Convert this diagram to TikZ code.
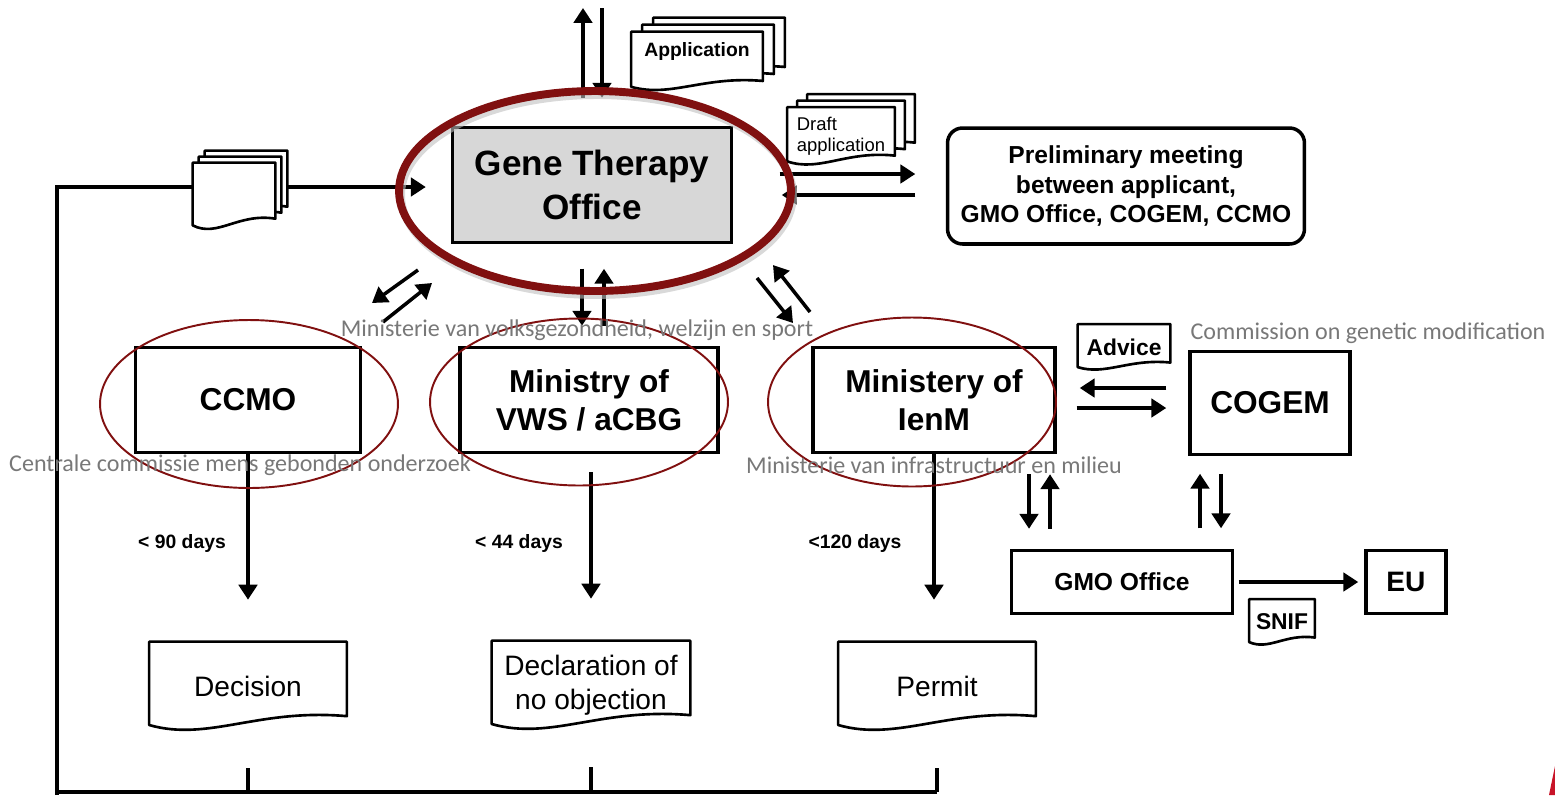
\documentclass[tikz,border=0pt]{standalone}
\usepackage{fontspec}
\setmainfont{Liberation Sans}
\newfontfamily\notefont{Carlito}
\usetikzlibrary{arrows.meta,calc}
\pgfdeclarelayer{wires}
\pgfdeclarelayer{paper}
\pgfsetlayers{wires,paper,main}

\definecolor{ringred}{RGB}{128,16,16}
\definecolor{notegray}{RGB}{120,120,120}
\definecolor{officegray}{RGB}{215,215,215}
\definecolor{cornerred}{RGB}{200,20,40}

\tikzset{
  box/.style={draw, line width=2pt, align=center, inner sep=0pt, font=\bfseries\fontsize{18}{21.6}\selectfont},
  doc/.style={inner sep=0pt, align=center, font=\fontsize{16}{19.4}\selectfont},
  docline/.style={draw=black, fill=white, line width=1.5pt, line join=round},
  arr/.style={line width=2pt, -{Triangle[length=8.5pt,width=10.5pt]}},
  wire/.style={line width=2pt},
  ring/.style={draw=ringred, line width=1.1pt},
  note/.style={text=notegray, font=\notefont\fontsize{13.7}{16}\selectfont, inner sep=0pt},
  days/.style={font=\bfseries\fontsize{11}{13}\selectfont, inner sep=0pt},
}

% paper outline with a wavy lower edge, behind the node text
\newcommand\docoutline[2]{%
  \begin{pgfonlayer}{paper}
  \filldraw[docline] let \p1=($(#1.south west)+(#2)$), \p2=($(#1.north east)+(#2)$) in
    (\x1,\y2) -- (\x2,\y2) -- (\x2,{\y1+0.16*(\y2-\y1)})
    .. controls ({\x1+0.55*(\x2-\x1)},{\y1+0.25*(\y2-\y1)}) and ({\x1+0.3*(\x2-\x1)},{\y1-0.13*(\y2-\y1)})
    .. (\x1,{\y1+0.06*(\y2-\y1)}) -- cycle;
  \end{pgfonlayer}}

\begin{document}
\begin{tikzpicture}[x=0.02cm, y=-0.02cm]
  \useasboundingbox (0,0) rectangle (1555,795);

  % offices
  \node[box, fill=officegray, minimum width=5.58cm, minimum height=2.3cm, font=\bfseries\fontsize{20}{25.5}\selectfont] (gto) at (592,185) {Gene Therapy\\Office};
  \node[box, rounded corners=0.3cm, minimum width=7.14cm, minimum height=2.32cm, font=\bfseries\fontsize{14}{16.8}\selectfont] (prelim) at (1126,186) {Preliminary meeting\\between applicant,\\GMO Office, COGEM, CCMO};
  \node[box, minimum width=4.5cm, minimum height=2.1cm] (ccmo) at (248,400) {CCMO};
  \node[box, minimum width=5.16cm, minimum height=2.1cm] (vws) at (589,400) {Ministry of\\VWS / aCBG};
  \node[box, minimum width=4.84cm, minimum height=2.1cm] (ienm) at (934,400) {Ministery of\\IenM};
  \node[box, minimum width=3.2cm, minimum height=2.06cm] (cogem) at (1270,403) {COGEM};
  \node[box, minimum width=4.42cm, minimum height=1.26cm, font=\bfseries\fontsize{14}{16}\selectfont] (gmo) at (1122,582) {GMO Office};
  \node[box, minimum width=1.6cm, minimum height=1.26cm, font=\bfseries\fontsize{16}{19}\selectfont] (eu) at (1406,582) {EU};

  % papers
  \node[doc, minimum width=2.62cm, minimum height=1.16cm, text depth=0.45cm, font=\bfseries\fontsize{11}{13}\selectfont] (application) at (697,61) {Application};
  \node[doc, minimum width=2.14cm, minimum height=1.14cm, align=left, font=\fontsize{10.5}{12}\selectfont] (draft) at (841,136) {Draft\\application};
  \node[doc, minimum width=1.64cm, minimum height=1.32cm] (bundle) at (234,196) {};
  \node[doc, minimum width=1.84cm, minimum height=0.9cm, font=\bfseries\fontsize{13}{15}\selectfont] (advice) at (1124,347) {Advice};
  \node[doc, minimum width=1.3cm, minimum height=0.9cm, font=\bfseries\fontsize{13}{15}\selectfont] (snif) at (1282,622) {SNIF};
  \node[doc, minimum width=3.94cm, minimum height=1.76cm] (decision) at (248,686) {Decision};
  \node[doc, minimum width=3.96cm, minimum height=1.76cm] (noobjection) at (591,685) {Declaration of\\no objection};
  \node[doc, minimum width=3.94cm, minimum height=1.76cm] (permit) at (937,686) {Permit};

  \docoutline{application}{22,-14}
  \docoutline{application}{11,-7}
  \docoutline{application}{0,0}
  \docoutline{draft}{20,-13}
  \docoutline{draft}{10,-6.5}
  \docoutline{draft}{0,0}
  \docoutline{bundle}{12,-12}
  \docoutline{bundle}{6,-6}
  \docoutline{bundle}{0,0}
  \docoutline{advice}{0,0}
  \docoutline{snif}{0,0}
  \docoutline{decision}{0,0}
  \docoutline{noobjection}{0,0}
  \docoutline{permit}{0,0}

  % loop back to the office
  \coordinate (loopend) at (57,795);
  \coordinate (loopcorner) at (57,792);
  \coordinate (looptop) at (57,187);
  \begin{pgfonlayer}{wires}
    \draw[arr, shorten >=0.5cm] (loopend) -- (looptop) -- (gto.west |- looptop);
    \draw[wire] (loopcorner) -- (loopcorner -| permit);
  \end{pgfonlayer}
  \draw[wire, shorten <=0.76cm] (decision.south) -- (decision.south |- loopcorner);
  \draw[wire, shorten <=0.76cm] (noobjection.south) -- (noobjection.south |- loopcorner);
  \draw[wire, shorten <=0.76cm] (permit.south) -- (permit.south |- loopcorner);

  % top
  \coordinate (upout) at (583,8);
  \coordinate (downin) at (602,8);
  \draw[arr, shorten <=0.56cm] (gto.north -| upout) -- (upout);
  \draw[arr, shorten >=0.56cm] (downin) -- (gto.north -| downin);

  % office and preliminary meeting
  \coordinate (gtoout) at ([yshift=0.22cm]gto.east);
  \coordinate (gtoin) at ([yshift=-0.2cm]gto.east);
  \draw[arr, shorten <=0.93cm, shorten >=0.61cm] (gtoout) -- (gtoout -| prelim.west);
  \draw[arr, shorten <=0.61cm, shorten >=0.97cm] (gtoin -| prelim.west) -- (gtoin);

  % office and ministries
  \coordinate (gtodown) at ([xshift=-0.2cm]gto.south);
  \coordinate (gtoup) at ([xshift=0.24cm]gto.south);
  \draw[arr, shorten <=0.49cm, shorten >=0.4cm] (gtodown) -- (gtodown |- vws.north);
  \draw[arr, shorten <=0.4cm, shorten >=0.49cm] (gtoup |- vws.north) -- (gtoup);
  \coordinate (ccmoin1) at (418,270);
  \coordinate (ccmoin2) at (372,303);
  \coordinate (ccmoout1) at (383,322);
  \coordinate (ccmoout2) at (432,283);
  \draw[arr] (ccmoin1) -- (ccmoin2);
  \draw[arr] (ccmoout1) -- (ccmoout2);
  \coordinate (ienmin1) at (757,278);
  \coordinate (ienmin2) at (793,323);
  \coordinate (ienmout1) at (810,312);
  \coordinate (ienmout2) at (773,265);
  \draw[arr] (ienmin1) -- (ienmin2);
  \draw[arr] (ienmout1) -- (ienmout2);

  % IenM, COGEM and GMO Office
  \coordinate (ienmback) at ([yshift=0.24cm]ienm.east);
  \coordinate (ienmask) at ([yshift=-0.16cm]ienm.east);
  \draw[arr, shorten <=0.44cm, shorten >=0.46cm] (ienmback -| cogem.west) -- (ienmback);
  \draw[arr, shorten <=0.4cm, shorten >=0.44cm] (ienmask) -- (ienmask -| cogem.west);
  \coordinate (gmodown) at ([xshift=-1.86cm]gmo.north);
  \coordinate (gmoup) at ([xshift=-1.44cm]gmo.north);
  \draw[arr, shorten <=0.4cm, shorten >=0.4cm] (gmodown |- ienm.south) -- (gmodown);
  \draw[arr, shorten <=0.4cm, shorten >=0.4cm] (gmoup) -- (gmoup |- ienm.south);
  \coordinate (cogemup) at ([xshift=-1.4cm]cogem.south);
  \coordinate (cogemdown) at ([xshift=-0.98cm]cogem.south);
  \draw[arr, shorten <=0.41cm, shorten >=0.35cm] (cogemup |- gmo.north) -- (cogemup);
  \draw[arr, shorten <=0.35cm, shorten >=0.41cm] (cogemdown) -- (cogemdown |- gmo.north);
  \draw[arr, shorten <=0.09cm, shorten >=0.12cm] (gmo.east) -- (eu.west);

  % results
  \draw[arr, shorten >=0.84cm] (ccmo.south) -- (decision.north);
  \draw[arr, shorten <=0.36cm, shorten >=0.84cm] (vws.south -| noobjection) -- (noobjection.north);
  \draw[arr, shorten >=0.84cm] (ienm.south) -- (ienm.south |- permit.north);
  \node[days] (ccmodays) at (182,543) {< 90 days};
  \node[days] (vwsdays) at (519,543) {< 44 days};
  \node[days] (ienmdays) at (855,543) {<120 days};

  % highlights
  \draw[black!25, line width=4.5pt, opacity=0.6] (597,195) ellipse [x radius=3.92cm, y radius=2cm];
  \draw[ring, line width=4.5pt] (595,191) ellipse [x radius=3.92cm, y radius=2cm];
  \draw[ring] (249,404) ellipse [x radius=2.98cm, y radius=1.68cm];
  \draw[ring] (579,402) ellipse [x radius=2.98cm, y radius=1.67cm];
  \draw[ring] (912,402) ellipse [x radius=2.88cm, y radius=1.69cm];

  % full names
  \node[note] (volksnote) at (577,330) {Ministerie van volksgezondheid, welzijn en sport};
  \node[note] (cogemnote) at (1368,333) {Commission on genetic modification};
  \node[note] (ccmonote) at (240,465) {Centrale commissie mens gebonden onderzoek};
  \node[note] (ienmnote) at (934,465) {Ministerie van infrastructuur en milieu};

  \fill[cornerred] (1549,795) -- (1555,766) -- (1555,795) -- cycle;
\end{tikzpicture}
\end{document}
